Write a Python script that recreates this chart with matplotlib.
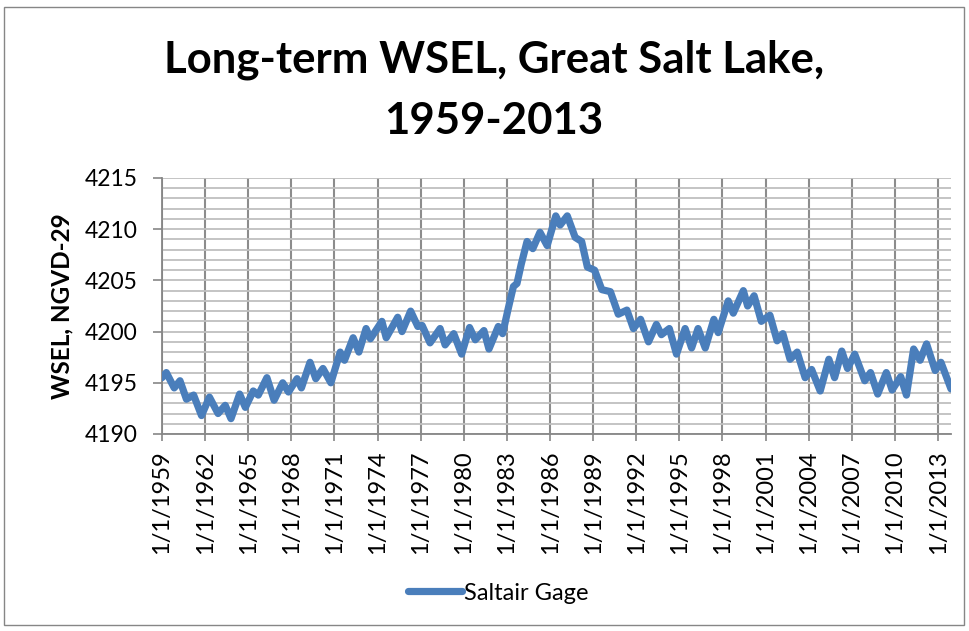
import matplotlib
matplotlib.use("Agg")
import matplotlib.pyplot as plt
from matplotlib.ticker import MultipleLocator, FixedLocator
from matplotlib.patches import Rectangle

# ---- data (decimal year, water surface elevation) ----
years = [1959.0, 1959.3, 1959.85, 1960.25, 1960.7, 1961.2, 1961.75, 1962.3, 1962.9, 1963.4,
         1963.8, 1964.4, 1964.8, 1965.35, 1965.7, 1966.3, 1966.8, 1967.4, 1967.8, 1968.4,
         1968.7, 1969.3, 1969.7, 1970.2, 1970.75, 1971.4, 1971.7, 1972.3, 1972.7, 1973.2,
         1973.5, 1974.3, 1974.6, 1975.4, 1975.7, 1976.3, 1976.8, 1977.1, 1977.65, 1978.35,
         1978.7, 1979.3, 1979.85, 1980.4, 1980.8, 1981.4, 1981.75, 1982.4, 1982.7, 1983.1,
         1983.45, 1983.7, 1984.0, 1984.4, 1984.8, 1985.3, 1985.8, 1986.4, 1986.7, 1987.2,
         1987.75, 1988.2, 1988.6, 1989.1, 1989.6, 1990.2, 1990.75, 1991.35, 1991.8, 1992.3,
         1992.85, 1993.4, 1993.75, 1994.3, 1994.8, 1995.4, 1995.85, 1996.3, 1996.8, 1997.4,
         1997.7, 1998.4, 1998.75, 1999.45, 1999.75, 2000.2, 2000.7, 2001.3, 2001.8, 2002.2,
         2002.7, 2003.2, 2003.75, 2004.2, 2004.8, 2005.4, 2005.8, 2006.3, 2006.7, 2007.2,
         2007.9, 2008.3, 2008.8, 2009.4, 2009.8, 2010.4, 2010.8, 2011.3, 2011.75, 2012.2,
         2012.8, 2013.2, 2013.9]
wsel = [4195.5, 4196.0, 4194.5, 4195.2, 4193.4, 4193.8, 4191.8, 4193.6, 4192.0, 4192.8,
        4191.5, 4193.9, 4192.6, 4194.2, 4193.8, 4195.5, 4193.3, 4195.0, 4194.1, 4195.4,
        4194.5, 4197.0, 4195.4, 4196.4, 4195.0, 4198.0, 4197.2, 4199.4, 4198.0, 4200.3,
        4199.3, 4201.0, 4199.4, 4201.4, 4200.0, 4202.0, 4200.5, 4200.6, 4198.9, 4200.3,
        4198.7, 4199.8, 4197.8, 4200.4, 4199.2, 4200.1, 4198.3, 4200.5, 4199.8, 4202.3,
        4204.4, 4204.7, 4206.6, 4208.8, 4208.1, 4209.7, 4208.4, 4211.3, 4210.4, 4211.3,
        4209.2, 4208.8, 4206.3, 4206.0, 4204.1, 4203.9, 4201.7, 4202.1, 4200.3, 4201.2,
        4199.0, 4200.7, 4199.7, 4200.3, 4197.8, 4200.3, 4198.4, 4200.3, 4198.4, 4201.2,
        4199.9, 4203.0, 4201.8, 4204.0, 4202.5, 4203.5, 4201.0, 4201.6, 4199.1, 4199.8,
        4197.3, 4198.0, 4195.5, 4196.3, 4194.2, 4197.3, 4195.5, 4198.1, 4196.4, 4197.8,
        4195.2, 4196.0, 4193.9, 4196.0, 4194.3, 4195.6, 4193.8, 4198.3, 4197.2, 4198.8,
        4196.2, 4197.0, 4194.4]
tick_years = list(range(1959, 2014, 3))
tick_labels = [f"1/1/{y}" for y in tick_years]
series_name = "Saltair Gage"
title_lines = ["Long-term WSEL, Great Salt Lake,", "1959-2013"]
y_label = "WSEL, NGVD-29"

FONT = "Lato"
LINE_COLOR = "#4a7ebb"
GRID_H = "#bfbfbf"
GRID_V = "#8c8c8c"
AXIS_C = "#868686"

W, H = 969, 631
fig = plt.figure(figsize=(W / 100, H / 100), dpi=100)
fig.patch.set_facecolor("white")

# outer chart border
fig.add_artist(Rectangle((4 / W, 1 - 625 / H), (964 - 4) / W, (625 - 7) / H,
                         transform=fig.transFigure, fill=False,
                         edgecolor=AXIS_C, linewidth=1.0))

left, right, top, bottom = 162, 951, 178, 434
ax = fig.add_axes([left / W, 1 - bottom / H, (right - left) / W, (bottom - top) / H])

line, = ax.plot(years, wsel, color=LINE_COLOR, linewidth=5.2,
                solid_joinstyle="round", solid_capstyle="round", label=series_name,
                zorder=3)

ax.set_xlim(1959.0, 2013.9)
ax.set_ylim(4190, 4215)

ax.yaxis.set_major_locator(MultipleLocator(5))
ax.yaxis.set_minor_locator(MultipleLocator(1))
ax.xaxis.set_major_locator(FixedLocator(tick_years))
ax.set_xticklabels(tick_labels, rotation=90, fontsize=17, family=FONT)
for lab in ax.get_yticklabels():
    lab.set_family(FONT)
    lab.set_fontsize(16.5)

ax.grid(which="both", axis="y", color=GRID_H, linewidth=1.3, zorder=1)
ax.grid(which="major", axis="x", color=GRID_V, linewidth=1.5, zorder=1)
ax.set_axisbelow(True)

ax.tick_params(axis="y", which="major", length=6.5, width=1.2, color=AXIS_C,
               pad=11)
ax.tick_params(axis="y", which="minor", length=0)
ax.tick_params(axis="x", which="major", length=5, width=1.2, color=AXIS_C,
               pad=7)

for s in ["top", "right"]:
    ax.spines[s].set_visible(False)
for s in ["left", "bottom"]:
    ax.spines[s].set_color(AXIS_C)
    ax.spines[s].set_linewidth(1.3)

# title
fig.text(0.51, 1 - 72 / H, title_lines[0], ha="center", va="baseline",
         fontsize=31.5, fontweight="bold", family=FONT)
fig.text(0.51, 1 - 134 / H, title_lines[1], ha="center", va="baseline",
         fontsize=31.5, fontweight="bold", family=FONT)

# y label
fig.text(62 / W, 1 - 306 / H, y_label, rotation=90, ha="center", va="center",
         fontsize=17.5, fontweight="bold", family=FONT)

# legend
leg = fig.legend(handles=[line], loc="center", bbox_to_anchor=(498 / W, 1 - 593 / H),
                 frameon=False, handlelength=2.3, handletextpad=0.08,
                 prop={"family": FONT, "size": 17})

fig.savefig("out.png", dpi=100, facecolor="white")
